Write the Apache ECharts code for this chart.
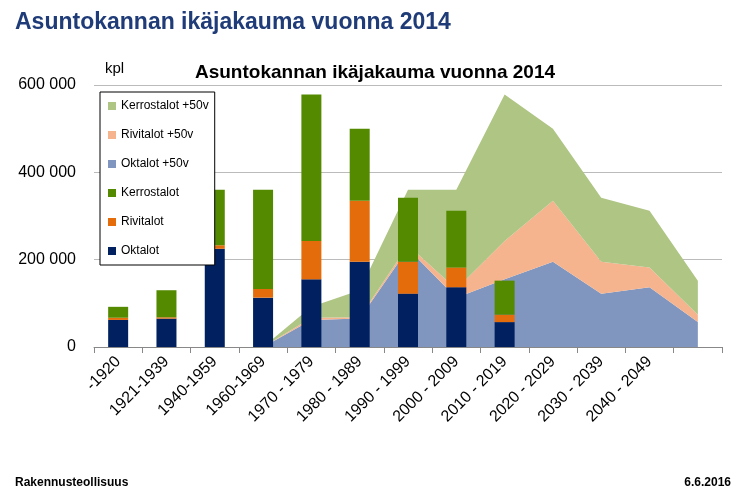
<!DOCTYPE html>
<html>
<head>
<meta charset="utf-8">
<script src="https://cdn.jsdelivr.net/npm/echarts@6/dist/echarts.min.js"></script>
<style>
  body { margin: 0; background: #fff; }
  #grafico { width: 750px; height: 501px; }
</style>
</head>
<body>
<div id="grafico"></div>
<script>
// Datos
const categorias = ['-1920', '1921-1939', '1940-1959', '1960-1969', '1970 - 1979', '1980 - 1989',
  '1990 - 1999', '2000 - 2009', '2010 - 2019', '2020 - 2029', '2030 - 2039', '2040 - 2049', ''];
const oktalot = [62000, 65000, 225000, 113000, 155000, 195000, 122000, 137000, 57000, null, null, null, null];
const rivitalot = [5000, 3000, 8000, 20000, 88000, 140000, 73000, 45000, 17000, null, null, null, null];
const kerrostalot = [25000, 62000, 127000, 227000, 335000, 165000, 147000, 130000, 78000, null, null, null, null];
const oktalot50 = [null, null, null, 0, 62000, 65000, 225000, 113000, 155000, 195000, 122000, 137000, 57000];
const rivitalot50 = [null, null, null, 0, 5000, 3000, 8000, 20000, 88000, 140000, 73000, 45000, 17000];
const kerrostalot50 = [null, null, null, 0, 25000, 62000, 127000, 227000, 335000, 165000, 147000, 130000, 78000];

const chart = echarts.init(document.getElementById('grafico'));

function area(name, data, color) {
  return {
    name: name, type: 'line', stack: 'ala', data: data,
    symbol: 'none', lineStyle: { width: 0 }, itemStyle: { color: color },
    areaStyle: { color: color, opacity: 1 }, z: 1
  };
}
function barra(name, data, color) {
  return {
    name: name, type: 'bar', stack: 'pylvas', data: data,
    barWidth: 20, itemStyle: { color: color }, z: 3
  };
}

chart.setOption({
  animation: false,
  textStyle: { fontFamily: 'Liberation Sans, Arial' },
  title: [
    { text: 'Asuntokannan ikäjakauma vuonna 2014', left: 10, top: 6,
      textStyle: { color: '#1F3C78', fontSize: 23, fontWeight: 'bold', fontFamily: 'Liberation Sans' } },
    { text: 'Asuntokannan ikäjakauma vuonna 2014', left: 370, top: 58, textAlign: 'center',
      textStyle: { color: '#000', fontSize: 19, fontWeight: 'bold', fontFamily: 'Liberation Sans' } },
    { text: 'kpl', left: 100, top: 56, textStyle: { color: '#000', fontSize: 15, fontWeight: 'normal' } },
    { text: 'Rakennusteollisuus', left: 10, top: 472, textStyle: { color: '#000', fontSize: 12, fontWeight: 'bold' } },
    { text: '6.6.2016', right: 14, top: 472, textStyle: { color: '#000', fontSize: 12, fontWeight: 'bold' } }
  ],
  legend: {
    orient: 'vertical', left: 100, top: 92, padding: [8, 6, 8, 8],
    borderColor: '#000', borderWidth: 1, backgroundColor: '#fff',
    itemWidth: 8, itemHeight: 8, itemGap: 17, icon: 'rect',
    textStyle: { fontSize: 12, color: '#000' },
    data: ['Kerrostalot +50v', 'Rivitalot +50v', 'Oktalot +50v', 'Kerrostalot', 'Rivitalot', 'Oktalot']
  },
  grid: { left: 94, right: 28, top: 85, bottom: 154 },
  xAxis: {
    type: 'category', data: categorias, boundaryGap: true,
    axisLine: { lineStyle: { color: '#888' } },
    axisTick: { show: true, length: 6, lineStyle: { color: '#888' } },
    axisLabel: { rotate: 45, fontSize: 16, color: '#000', interval: 0, margin: 12 }
  },
  yAxis: {
    type: 'value', min: 0, max: 600000, interval: 200000,
    axisLine: { show: false }, axisTick: { show: false },
    splitLine: { lineStyle: { color: '#bbb' } },
    axisLabel: { fontSize: 16, color: '#000', margin: 18,
      formatter: v => v === 0 ? '0' : String(v).replace(/\B(?=(\d{3})+(?!\d))/g, ' ') }
  },
  series: [
    area('Oktalot +50v', oktalot50, '#8096BF'),
    area('Rivitalot +50v', rivitalot50, '#F5B48E'),
    area('Kerrostalot +50v', kerrostalot50, '#AEC584'),
    barra('Oktalot', oktalot, '#002060'),
    barra('Rivitalot', rivitalot, '#E46C0A'),
    barra('Kerrostalot', kerrostalot, '#538A00')
  ]
});
</script>
</body>
</html>
